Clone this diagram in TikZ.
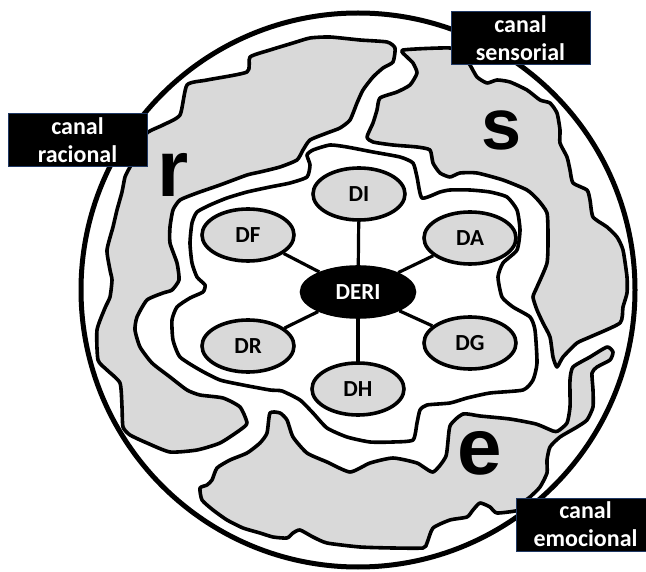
\documentclass[tikz,border=0pt]{standalone}
\usepackage{fontspec}
\setmainfont{Carlito}
\newfontfamily\heavyfont{Liberation Sans}
\usetikzlibrary{shapes.geometric,backgrounds}
\definecolor{lobegray}{RGB}{217,217,217}
\definecolor{framebl}{RGB}{31,56,100}

\begin{document}
\begin{tikzpicture}[
  x=1pt,y=-1pt,
  rim/.style={line width=5pt},
  edge/.style={line width=3.6pt,line join=round},
  lobe/.style={edge,fill=lobegray},
  sub/.style={ellipse,draw,line width=3.6pt,fill=lobegray,minimum width=92pt,
    minimum height=52pt,inner sep=0pt,font=\bfseries\fontsize{23}{23}\selectfont},
  hub/.style={sub,fill=black,text=white,minimum width=113pt,minimum height=50pt},
  link/.style={line width=3.2pt},
  channel/.style={fill=black,draw=framebl,line width=1pt,text=white,align=center,
    minimum width=139pt,minimum height=53pt,inner sep=0pt,
    font=\bfseries\fontsize{24}{28}\selectfont},
  letter/.style={font=\heavyfont\bfseries\fontsize{80}{80}\selectfont,anchor=base}
]
  % Units are points, y pointing down; the page is 646 x 572.
  \clip (0,0) rectangle (646,572);

  % Outer boundary.
  \draw[rim] (358,290) circle[radius=277pt];

  % Rational lobe (left / top).
  \draw[lobe] plot[smooth cycle,tension=0.35] coordinates {
    (147,133) (163,125) (180,115) (187,85) (207,80) (247,72) (250,57) (270,50)
    (293,43) (310,38) (330,37) (360,40) (387,42) (395,48) (393,62) (383,68)
    (373,77) (363,90) (357,103) (350,120) (340,128) (327,133) (310,140)
    (303,150) (297,160) (280,167) (260,172) (247,175) (220,185) (197,193)
    (180,200) (173,210) (170,227) (170,243) (177,263) (179,280) (172,290)
    (163,293) (147,300) (137,317) (135,330) (140,347) (152,363) (170,377)
    (187,390) (200,395) (223,398) (240,407) (247,423) (240,430) (220,443)
    (197,450) (170,452) (147,443) (130,435) (123,427) (122,407) (120,383)
    (107,370) (98,360) (97,330) (105,308) (110,297) (112,280) (110,270)
    (107,250) (113,227) (117,210) (122,192) (125,177) (130,167) (140,150)};

  % Sensory lobe (top / right).
  \draw[lobe] plot[smooth cycle,tension=0.35] coordinates {
    (403,50) (450,48) (462,55) (470,65) (477,77) (487,83) (497,80) (510,82)
    (527,90) (540,100) (550,103) (557,113) (560,130) (560,143) (567,157)
    (570,170) (573,183) (587,190) (590,200) (593,217) (607,227) (617,237)
    (623,250) (627,277) (627,293) (623,307) (620,323) (590,337) (577,343)
    (563,357) (557,367) (553,357) (550,337) (543,323) (537,310) (533,297)
    (537,287) (547,263) (548,237) (547,213) (538,200) (527,190) (503,180)
    (477,173) (460,173) (450,177) (440,173) (433,163) (430,150) (417,147)
    (393,145) (373,142) (367,137) (373,123) (377,110) (380,98) (397,92)
    (410,85) (417,73) (413,63) (407,57)};

  % Emotional lobe (bottom).
  \draw[lobe] plot[smooth cycle,tension=0.35] coordinates {
    (270,413) (280,413) (287,420) (293,437) (307,453) (327,462) (350,472)
    (370,463) (393,458) (417,463) (433,472) (446,456) (450,426) (463,414)
    (480,416) (510,419) (536,424) (553,431) (558,431) (567,423) (570,407)
    (570,380) (573,367) (590,357) (607,347) (613,352) (610,360) (597,367)
    (592,373) (593,390) (593,407) (587,420) (577,427) (560,437) (550,447)
    (547,460) (547,473) (540,487) (530,497) (522,503) (520,510) (497,513)
    (490,507) (480,503) (473,510) (467,517) (450,520) (433,528) (427,543)
    (423,548) (393,548) (360,547) (327,543) (313,537) (300,530) (293,533)
    (287,538) (273,537) (260,533) (243,528) (227,520) (213,510) (202,500)
    (200,488) (207,485) (212,480) (217,468) (230,460) (247,453) (260,443)
    (267,433)};

  % Inner border round the nodes.
  \draw[edge] plot[smooth cycle,tension=0.35] coordinates {
    (270,187) (247,192) (227,198) (210,205) (197,212) (192,223) (190,243)
    (192,263) (197,277) (205,285) (203,292) (190,298) (177,307) (172,320)
    (173,340) (180,357) (200,370) (220,380) (243,385) (270,390) (282,391)
    (300,400) (313,413) (327,428) (347,437) (370,442) (393,442) (413,440)
    (417,423) (420,410) (427,405) (450,403) (467,398) (490,393) (523,390)
    (533,380) (537,363) (535,330) (530,317) (513,307) (502,297) (498,277)
    (503,263) (517,250) (520,230) (517,210) (507,197) (490,192) (470,190)
    (450,190) (440,192) (422,198) (417,177) (413,163) (400,157) (373,152)
    (347,147) (330,145) (313,150) (307,155) (310,165) (307,177) (290,183)};

  % Hub and the six sub-nodes.
  \node[hub] (deri) at (358,292) {DERI};
  \node[sub] (di) at (359,194) {DI};
  \node[sub] (da) at (470,238) {DA};
  \node[sub] (dg) at (470,343) {DG};
  \node[sub] (dh) at (358,389) {DH};
  \node[sub] (dr) at (248,346) {DR};
  \node[sub] (df) at (248,235) {DF};
  \begin{scope}[on background layer]
    \foreach \n in {di,da,dg,dh,dr,df}
      \draw[link] (deri) -- (\n);
  \end{scope}

  % Lobe letters.
  \node[letter] (lr) at (173,197) {r};
  \node[letter,font=\heavyfont\bfseries\fontsize{72}{72}\selectfont]
    (ls) at (502,150) {s};
  \node[letter] (le) at (480,474) {e};

  % Channel labels.
  \node[channel] (racional) at (77.5,140.5) {canal\\racional};
  \node[channel] (sensorial) at (520.5,38.5) {canal\\sensorial};
  \node[channel] (emocional) at (585.5,524.5) {canal\\emocional};
\end{tikzpicture}
\end{document}
